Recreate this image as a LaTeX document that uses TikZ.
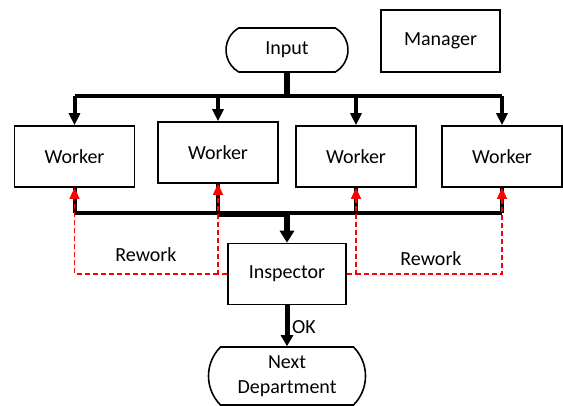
\documentclass[tikz,border=0pt]{standalone}
\usepackage{fontspec}
\setmainfont{Carlito}
\usetikzlibrary{arrows.meta,shapes.misc}

\tikzset{
  box/.style={draw, line width=1.6pt, minimum width=120pt, minimum height=61pt, inner sep=0pt},
  term/.style={draw, line width=1.6pt, rounded rectangle, inner sep=0pt, align=center},
  bus/.style={line width=4pt},
  feed/.style={line width=4pt, -{Triangle[length=12pt,width=11pt]}},
  drop/.style={line width=6pt, -{Triangle[length=12pt,width=14pt]}},
  rework/.style={red, line width=1.4pt, dash pattern=on 5pt off 3pt, -{Triangle[length=11pt,width=10pt]}},
}

\begin{document}
\begin{tikzpicture}[x=1pt, y=-1pt, font=\fontsize{20}{24}\selectfont]
\useasboundingbox (0,0) rectangle (563,406);

% Boxes
\node[term, minimum width=122pt, minimum height=44pt, rounded rectangle arc length=120] (input) at (287,50) {Input};
\node[box, minimum width=119pt, minimum height=62pt] (manager) at (440.5,41) {Manager};
\node[box] (w1) at (74.5,156.5) {Worker};
\node[box] (w2) at (218,152.5) {Worker};
\node[box] (w3) at (356,156.5) {Worker};
\node[box] (w4) at (502,156.5) {Worker};
\node[box, minimum width=118pt] (insp) at (287,274) {Inspector};
\node[term, minimum width=157pt, minimum height=58pt, rounded rectangle arc length=90] (next) at (287,376) {Next\\[1pt]Department};

% Input to the workers
\coordinate (top) at (287,96);
\draw[line width=6pt] (input.south) -- (top);
\draw[bus] (w1.north |- top) -- (w4.north |- top);
\foreach \w in {w1,w2,w3,w4}
  \draw[feed] (\w.north |- top) -- (\w.north);

% Workers to the inspector
\coordinate (low) at (287,213);
\foreach \w in {w1,w2,w3,w4}
  \draw[bus] (\w.south) -- (\w.south |- low);
\draw[bus] (w1.south |- low) -- (w4.south |- low);
\draw[line width=6pt] ([yshift=-1pt]w2.south |- low) -- ([yshift=-1pt]low);
\draw[drop] (low) -- (insp.north);

% Rework paths
\coordinate (l2) at (w2.south |- insp.west);
\coordinate (r3) at (w3.south |- insp.east);
\draw[rework] (insp.west) -- (l2) -- (w2.south);
\draw[rework] (l2) -| (w1.south);
\draw[rework] (insp.east) -- (r3) -- (w3.south);
\draw[rework] (r3) -| (w4.south);
\node (rwl) at (146,255) {Rework};
\node (rwr) at (431,259) {Rework};

% Passed work
\draw[line width=5pt, -{Triangle[length=11pt,width=12pt]}] (insp.south) -- (next.north);
\node[anchor=west, inner sep=0pt] (ok) at (292,327) {OK};

\end{tikzpicture}
\end{document}
